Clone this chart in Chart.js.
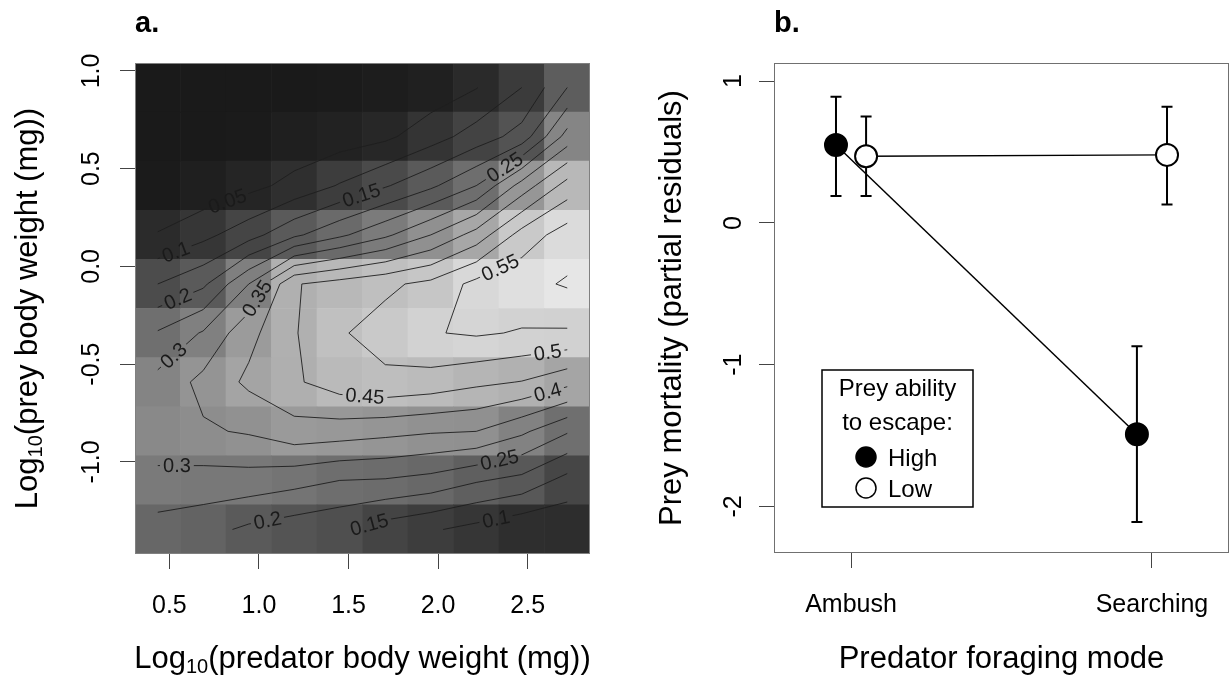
<!DOCTYPE html>
<html lang="en">
<head>
<meta charset="UTF-8">
<meta name="viewport" content="width=device-width, initial-scale=1.0">
<title>Prey mortality</title>
<script src="https://cdn.jsdelivr.net/npm/chart.js"></script>
<style>
    html, body { margin: 0; padding: 0; background: #fff; }
    .panel { position: absolute; top: 0; height: 686px; }
    #panelA { left: 0; width: 615px; }
    #panelB { left: 615px; width: 616px; }
</style>
</head>
<body>
<div class="panel" id="panelA"><canvas id="sizeChart"></canvas></div>
<div class="panel" id="panelB"><canvas id="modeChart"></canvas></div>
<script>
    // a. mortality surface, cell centres on log10 body weight
    const predatorLog = [0.435, 0.689, 0.943, 1.197, 1.451, 1.705, 1.959, 2.213, 2.467, 2.721];
    const preyLog = [0.915, 0.664, 0.413, 0.161, -0.090, -0.341, -0.592, -0.844, -1.095, -1.346];
    // rows follow preyLog (top to bottom), columns follow predatorLog
    const mortality = [
        [0.000, 0.000, 0.000, 0.000, 0.005, 0.010, 0.020, 0.048, 0.100, 0.200],
        [0.000, 0.000, 0.005, 0.015, 0.025, 0.040, 0.078, 0.122, 0.170, 0.320],
        [0.005, 0.015, 0.035, 0.065, 0.104, 0.145, 0.190, 0.250, 0.370, 0.470],
        [0.053, 0.086, 0.130, 0.190, 0.240, 0.290, 0.350, 0.420, 0.520, 0.575],
        [0.150, 0.190, 0.300, 0.446, 0.470, 0.490, 0.513, 0.565, 0.585, 0.605],
        [0.255, 0.305, 0.385, 0.446, 0.495, 0.520, 0.547, 0.556, 0.546, 0.544],
        [0.315, 0.364, 0.410, 0.443, 0.475, 0.489, 0.480, 0.461, 0.448, 0.415],
        [0.330, 0.344, 0.355, 0.381, 0.375, 0.365, 0.355, 0.350, 0.310, 0.255],
        [0.287, 0.281, 0.280, 0.267, 0.250, 0.246, 0.233, 0.205, 0.185, 0.133],
        [0.230, 0.218, 0.190, 0.173, 0.158, 0.127, 0.106, 0.084, 0.060, 0.058]
    ];
    const contourLevels = [0.05, 0.1, 0.15, 0.2, 0.25, 0.3, 0.35, 0.4, 0.45, 0.5, 0.55, 0.6];
    // [level, predator, prey] where each contour carries its label
    const contourLabels = [
        [0.05, 0.827, 0.325], [0.1, 0.542, 0.059], [0.15, 1.575, 0.355], [0.2, 0.542, -0.156],
        [0.25, 2.345, 0.545], [0.3, 0.520, -0.453], [0.35, 1.039, -0.187], [0.55, 2.345, -0.003],
        [0.45, 1.592, -0.662], [0.5, 2.613, -0.448], [0.4, 2.613, -0.647], [0.3, 0.542, -1.005],
        [0.25, 2.334, -0.954], [0.2, 1.050, -1.312], [0.15, 1.608, -1.312], [0.1, 2.323, -1.292]
    ];
    const predatorTicks = [0.5, 1.0, 1.5, 2.0, 2.5];
    const preyTicks = [-1.0, -0.5, 0.0, 0.5, 1.0];

    // b. partial residuals by predator foraging mode
    const modes = ['Ambush', 'Searching'];
    const escapeHigh = [0.55, -1.49];
    const escapeHighLower = [0.19, -2.11];
    const escapeHighUpper = [0.89, -0.87];
    const escapeLow = [0.47, 0.48];
    const escapeLowLower = [0.19, 0.13];
    const escapeLowUpper = [0.75, 0.82];
    const residualTicks = [-2, -1, 0, 1];
    const legendTitle = ['Prey ability', 'to escape:'];

    const FONT = '"Liberation Sans", Arial, sans-serif';
    Chart.defaults.font.family = FONT;
    Chart.defaults.color = '#000';

    // ---------- panel a helpers ----------
    const flat = mortality.flat();
    const zMin = Math.min(...flat), zMax = Math.max(...flat);
    function greyFor(z) {
        const g = Math.round(255 * (0.1 + 0.8 * (z - zMin) / (zMax - zMin)));
        return `rgb(${g},${g},${g})`;
    }

    function crossing(edge, level) {
        const [kind, i, j] = edge.split(',');
        const r = +i, c = +j;
        if (kind === 'h') {
            const z0 = mortality[r][c], z1 = mortality[r][c + 1];
            const t = (level - z0) / (z1 - z0);
            return { x: predatorLog[c] + t * (predatorLog[c + 1] - predatorLog[c]), y: preyLog[r] };
        }
        const z0 = mortality[r][c], z1 = mortality[r + 1][c];
        const t = (level - z0) / (z1 - z0);
        return { x: predatorLog[c], y: preyLog[r] + t * (preyLog[r + 1] - preyLog[r]) };
    }

    // marching squares on the cell centres, segments chained into paths
    function contourPaths(level) {
        const segs = [];
        for (let r = 0; r < preyLog.length - 1; r++) {
            for (let c = 0; c < predatorLog.length - 1; c++) {
                const a = mortality[r][c], b = mortality[r][c + 1];
                const d = mortality[r + 1][c], e = mortality[r + 1][c + 1];
                const top = `h,${r},${c}`, bottom = `h,${r + 1},${c}`;
                const left = `v,${r},${c}`, right = `v,${r},${c + 1}`;
                const code = (a > level ? 8 : 0) | (b > level ? 4 : 0) | (e > level ? 2 : 0) | (d > level ? 1 : 0);
                const centreUp = (a + b + d + e) / 4 > level;
                switch (code) {
                    case 1: case 14: segs.push([left, bottom]); break;
                    case 2: case 13: segs.push([bottom, right]); break;
                    case 3: case 12: segs.push([left, right]); break;
                    case 4: case 11: segs.push([top, right]); break;
                    case 6: case 9: segs.push([top, bottom]); break;
                    case 7: case 8: segs.push([left, top]); break;
                    case 5:
                        if (centreUp) { segs.push([left, top], [bottom, right]); }
                        else { segs.push([top, right], [left, bottom]); }
                        break;
                    case 10:
                        if (centreUp) { segs.push([top, right], [left, bottom]); }
                        else { segs.push([left, top], [bottom, right]); }
                        break;
                }
            }
        }
        const byEdge = new Map();
        segs.forEach((s, k) => s.forEach(e => {
            if (!byEdge.has(e)) byEdge.set(e, []);
            byEdge.get(e).push(k);
        }));
        const used = segs.map(() => false);
        const ends = [...byEdge.keys()].filter(e => byEdge.get(e).length === 1);
        const paths = [];
        for (const start of ends.concat([...byEdge.keys()])) {
            let k = byEdge.get(start).find(s => !used[s]);
            if (k === undefined) continue;
            const path = [start];
            let cur = start;
            while (k !== undefined) {
                used[k] = true;
                cur = segs[k][0] === cur ? segs[k][1] : segs[k][0];
                path.push(cur);
                k = byEdge.get(cur).find(s => !used[s]);
            }
            paths.push(path.map(e => crossing(e, level)));
        }
        return paths;
    }

    const halfX = (predatorLog[1] - predatorLog[0]) / 2;
    const halfY = (preyLog[0] - preyLog[1]) / 2;
    const cells = [], cellColours = [];
    mortality.forEach((row, i) => row.forEach((z, j) => {
        cells.push({ x: predatorLog[j], y: [preyLog[i] - halfY, preyLog[i] + halfY] });
        cellColours.push(greyFor(z));
    }));

    const contourDatasets = [];
    contourLevels.forEach(level => contourPaths(level).forEach(path => contourDatasets.push({
        type: 'line',
        data: path,
        level: level,
        borderColor: '#1e1e1e',
        borderWidth: 0.9,
        pointRadius: 0,
        fill: false,
        tension: 0,
        order: 1
    })));

    // ---------- shared plugins ----------
    function drawRich(ctx, parts, x, y, rotate) {
        ctx.save();
        ctx.translate(x, y);
        if (rotate) ctx.rotate(-Math.PI / 2);
        const widths = parts.map(p => { ctx.font = p.css; return ctx.measureText(p.text).width; });
        let cx = -widths.reduce((s, w) => s + w, 0) / 2;
        ctx.fillStyle = '#000';
        ctx.textAlign = 'left';
        ctx.textBaseline = 'alphabetic';
        parts.forEach((p, k) => {
            ctx.font = p.css;
            ctx.fillText(p.text, cx, p.shift || 0);
            cx += widths[k];
        });
        ctx.restore();
    }

    const frame = {
        id: 'frame',
        afterDatasetsDraw(chart, args, opts) {
            const { ctx, chartArea: a } = chart;
            ctx.save();
            ctx.strokeStyle = opts.color;
            ctx.lineWidth = 1;
            ctx.strokeRect(Math.round(a.left) + 0.5, Math.round(a.top) + 0.5,
                Math.round(a.width) - 1, Math.round(a.height) - 1);
            ctx.restore();
        }
    };

    function titlesFor(cfg) {
        return {
            id: 'titles',
            afterDraw(chart) {
                const { ctx, chartArea: a } = chart;
                drawRich(ctx, cfg.xParts, (a.left + a.right) / 2, cfg.xBaseline, false);
                drawRich(ctx, cfg.yParts, cfg.yBaseline, (a.top + a.bottom) / 2, true);
                ctx.save();
                ctx.font = 'bold 29px ' + FONT;
                ctx.fillStyle = '#000';
                ctx.textAlign = 'left';
                ctx.textBaseline = 'alphabetic';
                ctx.fillText(cfg.tag, a.left, cfg.tagBaseline);
                ctx.restore();
            }
        };
    }

    const big = '31px ' + FONT, sub = '20px ' + FONT;
    const tickFont = { size: 25 };
    const tickGrid = { drawOnChartArea: false, drawTicks: true, tickLength: 15, tickColor: '#444', tickWidth: 1, offset: false };
    const noPadding = s => { s.paddingLeft = 0; s.paddingRight = 0; s.paddingTop = 0; s.paddingBottom = 0; };

    // ---------- contour labels ----------
    const labelFont = '20px ' + FONT;
    const contourText = {
        id: 'contourText',
        beforeDatasetsDraw(chart) {
            const { ctx, scales: { x, y } } = chart;
            ctx.save();
            ctx.font = labelFont;
            chart.$contourLabels = contourLabels.map(([level, px, py]) => {
                const text = String(level);
                const w = ctx.measureText(text).width;
                const cx = x.getPixelForValue(px), cy = y.getPixelForValue(py);
                let best = null;
                chart.data.datasets.forEach(ds => {
                    if (ds.level !== level) return;
                    const pix = ds.data.map(p => ({ x: x.getPixelForValue(p.x), y: y.getPixelForValue(p.y) }));
                    const cum = [0];
                    for (let k = 1; k < pix.length; k++) cum.push(cum[k - 1] + Math.hypot(pix[k].x - pix[k - 1].x, pix[k].y - pix[k - 1].y));
                    for (let k = 1; k < pix.length; k++) {
                        const ax = pix[k - 1].x, ay = pix[k - 1].y;
                        const dx = pix[k].x - ax, dy = pix[k].y - ay;
                        const len2 = dx * dx + dy * dy || 1;
                        const t = Math.max(0, Math.min(1, ((cx - ax) * dx + (cy - ay) * dy) / len2));
                        const qx = ax + t * dx, qy = ay + t * dy;
                        const dist = Math.hypot(cx - qx, cy - qy);
                        if (!best || dist < best.dist) best = { dist, pix, cum, s: cum[k - 1] + t * Math.sqrt(len2) };
                    }
                });
                const at = s => {
                    const { pix, cum } = best;
                    s = Math.max(0, Math.min(cum[cum.length - 1], s));
                    let k = 1;
                    while (k < cum.length - 1 && cum[k] < s) k++;
                    const t = (s - cum[k - 1]) / ((cum[k] - cum[k - 1]) || 1);
                    return { x: pix[k - 1].x + t * (pix[k].x - pix[k - 1].x), y: pix[k - 1].y + t * (pix[k].y - pix[k - 1].y) };
                };
                const p0 = at(best.s - w / 2), p1 = at(best.s + w / 2);
                let ang = Math.atan2(p1.y - p0.y, p1.x - p0.x);
                if (ang > Math.PI / 2) ang -= Math.PI;
                if (ang < -Math.PI / 2) ang += Math.PI;
                return { level, text, w, x: (p0.x + p1.x) / 2, y: (p0.y + p1.y) / 2, ang };
            });
            ctx.restore();
        },
        beforeDatasetDraw(chart, args) {
            const ds = chart.data.datasets[args.index];
            if (!ds.level) return;
            const { ctx, chartArea: a } = chart;
            ctx.save();
            ctx.beginPath();
            ctx.rect(a.left, a.top, a.width, a.height);
            chart.$contourLabels.filter(l => l.level === ds.level).forEach(l => {
                const hw = l.w / 2 + 3, hh = 9;
                const c = Math.cos(l.ang), s = Math.sin(l.ang);
                const pts = [[-hw, -hh], [hw, -hh], [hw, hh], [-hw, hh]]
                    .map(([u, v]) => [l.x + u * c - v * s, l.y + u * s + v * c]);
                ctx.moveTo(pts[0][0], pts[0][1]);
                pts.slice(1).forEach(p => ctx.lineTo(p[0], p[1]));
                ctx.closePath();
            });
            ctx.clip('evenodd');
        },
        afterDatasetDraw(chart, args) {
            if (chart.data.datasets[args.index].level) chart.ctx.restore();
        },
        afterDatasetsDraw(chart) {
            const { ctx } = chart;
            ctx.save();
            ctx.font = labelFont;
            ctx.fillStyle = '#1a1a1a';
            ctx.textAlign = 'center';
            ctx.textBaseline = 'middle';
            chart.$contourLabels.forEach(l => {
                ctx.save();
                ctx.translate(l.x, l.y);
                ctx.rotate(l.ang);
                ctx.fillText(l.text, 0, 1);
                ctx.restore();
            });
            ctx.restore();
        }
    };

    new Chart(document.getElementById('sizeChart'), {
        type: 'bar',
        data: {
            datasets: [{
                type: 'bar',
                data: cells,
                backgroundColor: cellColours,
                borderWidth: 0,
                barPercentage: 1,
                categoryPercentage: 1,
                order: 2
            }, ...contourDatasets]
        },
        options: {
            responsive: true,
            maintainAspectRatio: false,
            animation: false,
            events: [],
            layout: { autoPadding: false, padding: { top: 63, right: 25, left: 0, bottom: 0 } },
            plugins: {
                legend: { display: false },
                tooltip: { enabled: false },
                frame: { color: '#808080' }
            },
            scales: {
                x: {
                    type: 'linear',
                    offset: false,
                    min: predatorLog[0] - halfX,
                    max: predatorLog[predatorLog.length - 1] + halfX,
                    afterBuildTicks: s => { s.ticks = predatorTicks.map(v => ({ value: v })); },
                    afterFit: s => { s.height = 132; noPadding(s); },
                    grid: tickGrid,
                    border: { display: false },
                    ticks: { font: tickFont, padding: 22, maxRotation: 0, callback: v => v.toFixed(1) }
                },
                y: {
                    type: 'linear',
                    min: preyLog[preyLog.length - 1] - halfY,
                    max: preyLog[0] + halfY,
                    afterBuildTicks: s => { s.ticks = preyTicks.map(v => ({ value: v })); },
                    afterFit: s => { s.width = 135; noPadding(s); },
                    grid: tickGrid,
                    border: { display: false },
                    ticks: { font: tickFont, padding: 6, minRotation: 90, maxRotation: 90, crossAlign: 'center', callback: v => v.toFixed(1) }
                }
            }
        },
        plugins: [contourText, frame, titlesFor({
            tag: 'a.', tagBaseline: 32, xBaseline: 668, yBaseline: 37,
            xParts: [{ text: 'Log', css: big }, { text: '10', css: sub, shift: 5 }, { text: '(predator body weight (mg))', css: big }],
            yParts: [{ text: 'Log', css: big }, { text: '10', css: sub, shift: 5 }, { text: '(prey body weight (mg))', css: big }]
        })]
    });

    // ---------- panel b ----------
    const dodge = 0.05;
    const errorBars = {
        id: 'errorBars',
        beforeDatasetsDraw(chart) {
            const { ctx, scales: { x, y } } = chart;
            ctx.save();
            ctx.strokeStyle = '#000';
            ctx.lineWidth = 2;
            chart.data.datasets.forEach(ds => ds.data.forEach((p, k) => {
                const px = x.getPixelForValue(p.x);
                const lo = y.getPixelForValue(ds.lower[k]), hi = y.getPixelForValue(ds.upper[k]);
                ctx.beginPath();
                ctx.moveTo(px, lo); ctx.lineTo(px, hi);
                ctx.moveTo(px - 5.5, lo); ctx.lineTo(px + 5.5, lo);
                ctx.moveTo(px - 5.5, hi); ctx.lineTo(px + 5.5, hi);
                ctx.stroke();
            }));
            ctx.restore();
        }
    };

    const escapeLegend = {
        id: 'escapeLegend',
        afterDatasetsDraw(chart) {
            const { ctx, chartArea: a } = chart;
            const left = a.left + 48, top = a.top + 307, w = 151, h = 137;
            ctx.save();
            ctx.fillStyle = '#fff';
            ctx.fillRect(left, top, w, h);
            ctx.strokeStyle = '#000';
            ctx.lineWidth = 1.5;
            ctx.strokeRect(left, top, w, h);
            ctx.font = '24px ' + FONT;
            ctx.fillStyle = '#000';
            ctx.textAlign = 'center';
            ctx.textBaseline = 'alphabetic';
            legendTitle.forEach((line, k) => ctx.fillText(line, left + w / 2, top + 26 + k * 34));
            chart.data.datasets.forEach((ds, k) => {
                const cy = top + 87 + k * 31;
                ctx.beginPath();
                ctx.arc(left + 44, cy, 10, 0, Math.PI * 2);
                ctx.fillStyle = ds.pointBackgroundColor;
                ctx.fill();
                ctx.lineWidth = 1.5;
                ctx.strokeStyle = '#000';
                ctx.stroke();
                ctx.fillStyle = '#000';
                ctx.textAlign = 'left';
                ctx.fillText(ds.label, left + 66, cy + 9);
            });
            ctx.restore();
        }
    };

    function series(label, means, lower, upper, offset, fillColour) {
        return {
            label: label,
            data: means.map((m, k) => ({ x: k + 1 + offset, y: m })),
            lower: lower,
            upper: upper,
            borderColor: '#000',
            borderWidth: 1.5,
            pointRadius: 11,
            pointBorderWidth: 2,
            pointBorderColor: '#000',
            pointBackgroundColor: fillColour,
            tension: 0,
            fill: false
        };
    }

    new Chart(document.getElementById('modeChart'), {
        type: 'line',
        data: {
            datasets: [
                series('High', escapeHigh, escapeHighLower, escapeHighUpper, -dodge, '#000'),
                series('Low', escapeLow, escapeLowLower, escapeLowUpper, dodge, '#fff')
            ]
        },
        options: {
            responsive: true,
            maintainAspectRatio: false,
            animation: false,
            events: [],
            layout: { autoPadding: false, padding: { top: 63, right: 2, left: 0, bottom: 0 } },
            plugins: {
                legend: { display: false },
                tooltip: { enabled: false },
                frame: { color: '#707070' }
            },
            scales: {
                x: {
                    type: 'linear',
                    min: 0.744,
                    max: 2.256,
                    afterBuildTicks: s => { s.ticks = modes.map((m, k) => ({ value: k + 1 })); },
                    afterFit: s => { s.height = 133; noPadding(s); },
                    grid: tickGrid,
                    border: { display: false },
                    ticks: { font: tickFont, padding: 22, maxRotation: 0, callback: v => modes[v - 1] }
                },
                y: {
                    type: 'linear',
                    min: -2.328,
                    max: 1.128,
                    afterBuildTicks: s => { s.ticks = residualTicks.map(v => ({ value: v })); },
                    afterFit: s => { s.width = 159; noPadding(s); },
                    grid: tickGrid,
                    border: { display: false },
                    ticks: { font: tickFont, padding: 14, minRotation: 90, maxRotation: 90, crossAlign: 'center', callback: v => String(v) }
                }
            }
        },
        plugins: [errorBars, frame, escapeLegend, titlesFor({
            tag: 'b.', tagBaseline: 32, xBaseline: 668, yBaseline: 66,
            xParts: [{ text: 'Predator foraging mode', css: big }],
            yParts: [{ text: 'Prey mortality (partial residuals)', css: big }]
        })]
    });
</script>
</body>
</html>
